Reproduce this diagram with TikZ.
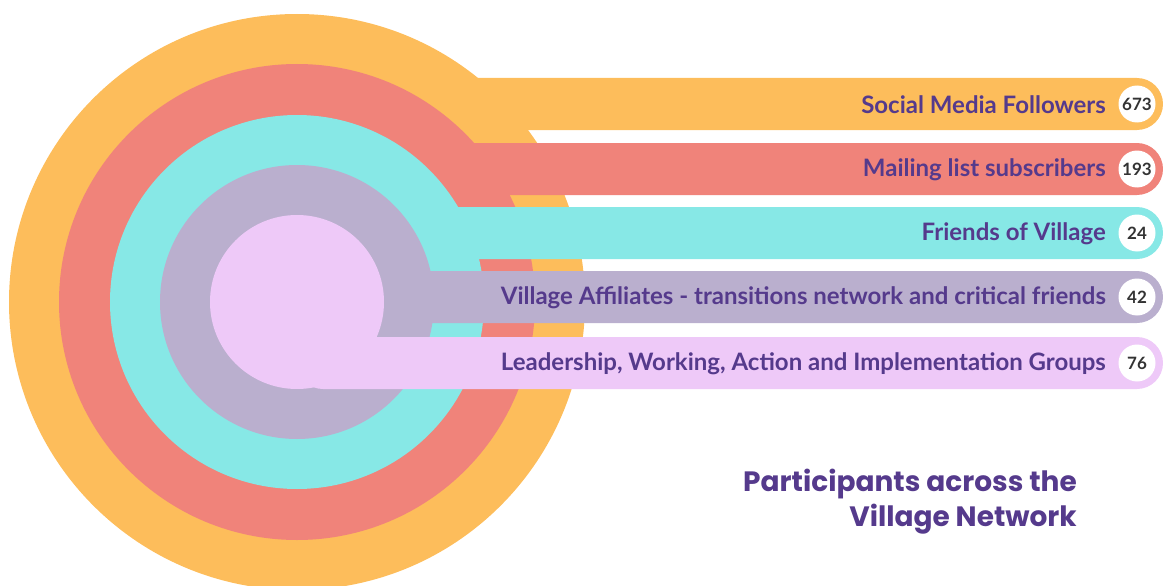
\documentclass[tikz,border=0pt]{standalone}
\usepackage{fontspec}
\setmainfont{Lato}
\newfontfamily\titlefont{Poppins}
\definecolor{cOrange}{HTML}{FDBD5B}
\definecolor{cRed}{HTML}{F0837A}
\definecolor{cCyan}{HTML}{87E8E6}
\definecolor{cLav}{HTML}{BAAFCE}
\definecolor{cPink}{HTML}{EEC9F8}
\definecolor{cText}{HTML}{553A8C}
\definecolor{cNum}{HTML}{333333}
\tikzset{
  bar/.style={rounded corners=26pt},
  numcirc/.style={circle, fill=white, minimum size=37pt, inner sep=0pt,
    text=cNum, font=\bfseries\fontsize{17}{20}\selectfont},
  lbl/.style={anchor=east, inner sep=0pt, text=cText, font=\bfseries\fontsize{24}{28}\selectfont},
}
\begin{document}
\begin{tikzpicture}[x=1pt,y=-1pt]
\useasboundingbox (0,0) rectangle (1163,586);
\clip (0,0) rectangle (1163,586);
\coordinate (c) at (297,302);
% orange
\fill[cOrange] (c) circle (288pt);
\fill[cOrange,bar] (297,78) rectangle (1163,130);
% red
\fill[cRed] (c) circle (238pt);
\fill[cRed,bar] (297,143) rectangle (1163,195);
% cyan
\fill[cCyan] (c) circle (187pt);
\fill[cCyan,bar] (297,207) rectangle (1163,259);
% lavender
\fill[cLav] (c) circle (137pt);
\fill[cLav,bar] (297,271) rectangle (1163,323);
% pink
\fill[cPink] (c) circle (87pt);
\fill[cPink,bar] (297,337) rectangle (1163,389);
% numbers
\node[numcirc] (n1) at (1137,104) {673};
\node[numcirc] (n2) at (1137,169) {193};
\node[numcirc] (n3) at (1137,233) {24};
\node[numcirc] (n4) at (1137,297) {42};
\node[numcirc] (n5) at (1137,363) {76};
% labels
\node[lbl] (l1) at (1106,105) {Social Media Followers};
\node[lbl] (l2) at (1106,170) {Mailing list subscribers};
\node[lbl] (l3) at (1106,234) {Friends of Village};
\node[lbl] (l4) at (1106,298) {Village Affiliates - transitions network and critical friends};
\node[lbl] (l5) at (1106,364) {Leadership, Working, Action and Implementation Groups};
% title
\node[anchor=north east, align=right, inner sep=0pt, text=cText,
  font=\titlefont\bfseries\fontsize{28}{35}\selectfont] (title) at (1077,469)
  {Participants across the\\Village Network};
\end{tikzpicture}
\end{document}
